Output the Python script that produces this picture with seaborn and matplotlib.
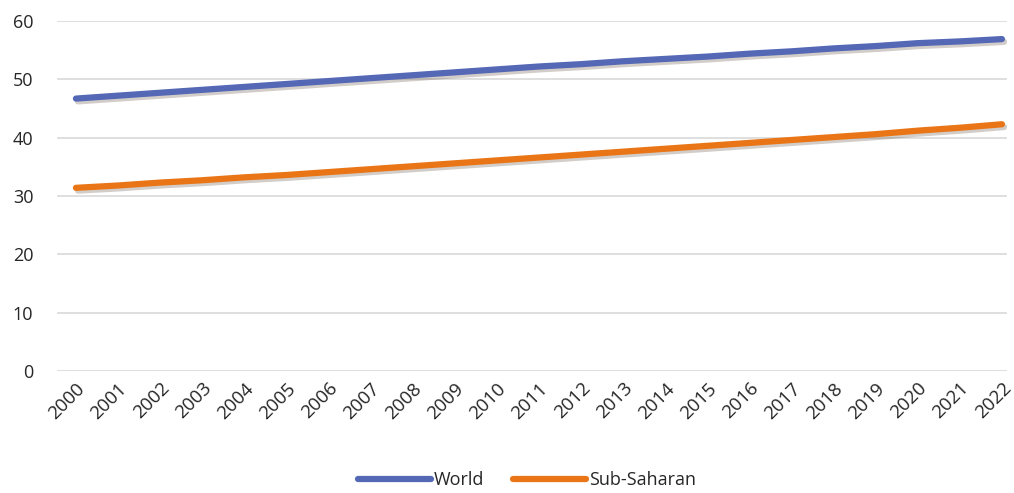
import numpy as np
import pandas as pd
import matplotlib
matplotlib.use("Agg")
import matplotlib.pyplot as plt
import matplotlib.patheffects as pe
import seaborn as sns

years = list(range(2000, 2023))
world = [46.7, 47.2, 47.7, 48.2, 48.7, 49.2, 49.7, 50.2, 50.7, 51.2, 51.7, 52.2,
         52.6, 53.1, 53.5, 53.9, 54.4, 54.8, 55.3, 55.7, 56.2, 56.5, 56.9]
ssa = [31.4, 31.8, 32.3, 32.7, 33.2, 33.6, 34.1, 34.6, 35.1, 35.6, 36.1, 36.6,
       37.1, 37.6, 38.1, 38.6, 39.1, 39.6, 40.1, 40.6, 41.2, 41.7, 42.3]

a = pd.DataFrame({"Year": years * 2,
                  "Value": world + ssa,
                  "Series": ["World"] * len(years) + ["Sub-Saharan"] * len(years)})

sns.set_theme(style="white")
plt.rcParams['font.family'] = ['Open Sans', 'DejaVu Sans']

fig = plt.figure(figsize=[10.14, 4.93], dpi=100)
ax = fig.add_axes([57 / 1014, 1 - 371 / 493, 950 / 1014, 350 / 493])

pal = {"World": "#5468B5", "Sub-Saharan": "#E97516"}
sns.lineplot(data=a, x="Year", y="Value", hue="Series", palette=pal, ax=ax,
             linewidth=4.5, solid_capstyle="round", legend=False)
for ln in ax.lines:
    ln.set_path_effects([pe.SimpleLineShadow(offset=(1.5, -2), alpha=0.3, shadow_color="#6a5a4a"),
                         pe.Normal()])

ax.set_ylim(0, 60)
ax.set_yticks(range(0, 61, 10))
ax.set_xlim(2000 - 0.45, 2022 + 0.12)
ax.set_xticks(years)
ax.set_xticklabels([str(y) for y in years], rotation=45, ha="right",
                   rotation_mode="anchor", fontsize=13.5)
ax.tick_params(axis="y", labelsize=13, pad=17, length=0)
ax.tick_params(axis="x", length=0, pad=6)
ax.grid(axis="y", color="#d9d9d9", linewidth=1.2)
ax.set_axisbelow(True)
for s in ax.spines.values():
    s.set_visible(False)
ax.set_xlabel("")
ax.set_ylabel("")

h = [plt.Line2D([], [], color=pal[k], linewidth=4.5, solid_capstyle="round") for k in pal]
fig.legend(h, list(pal), loc="center", bbox_to_anchor=(0.52, 1 - 480 / 493), ncol=2,
           frameon=False, fontsize=13, handlelength=4.0, handletextpad=0.2, columnspacing=1.6)

plt.savefig("out.png", dpi=100)
